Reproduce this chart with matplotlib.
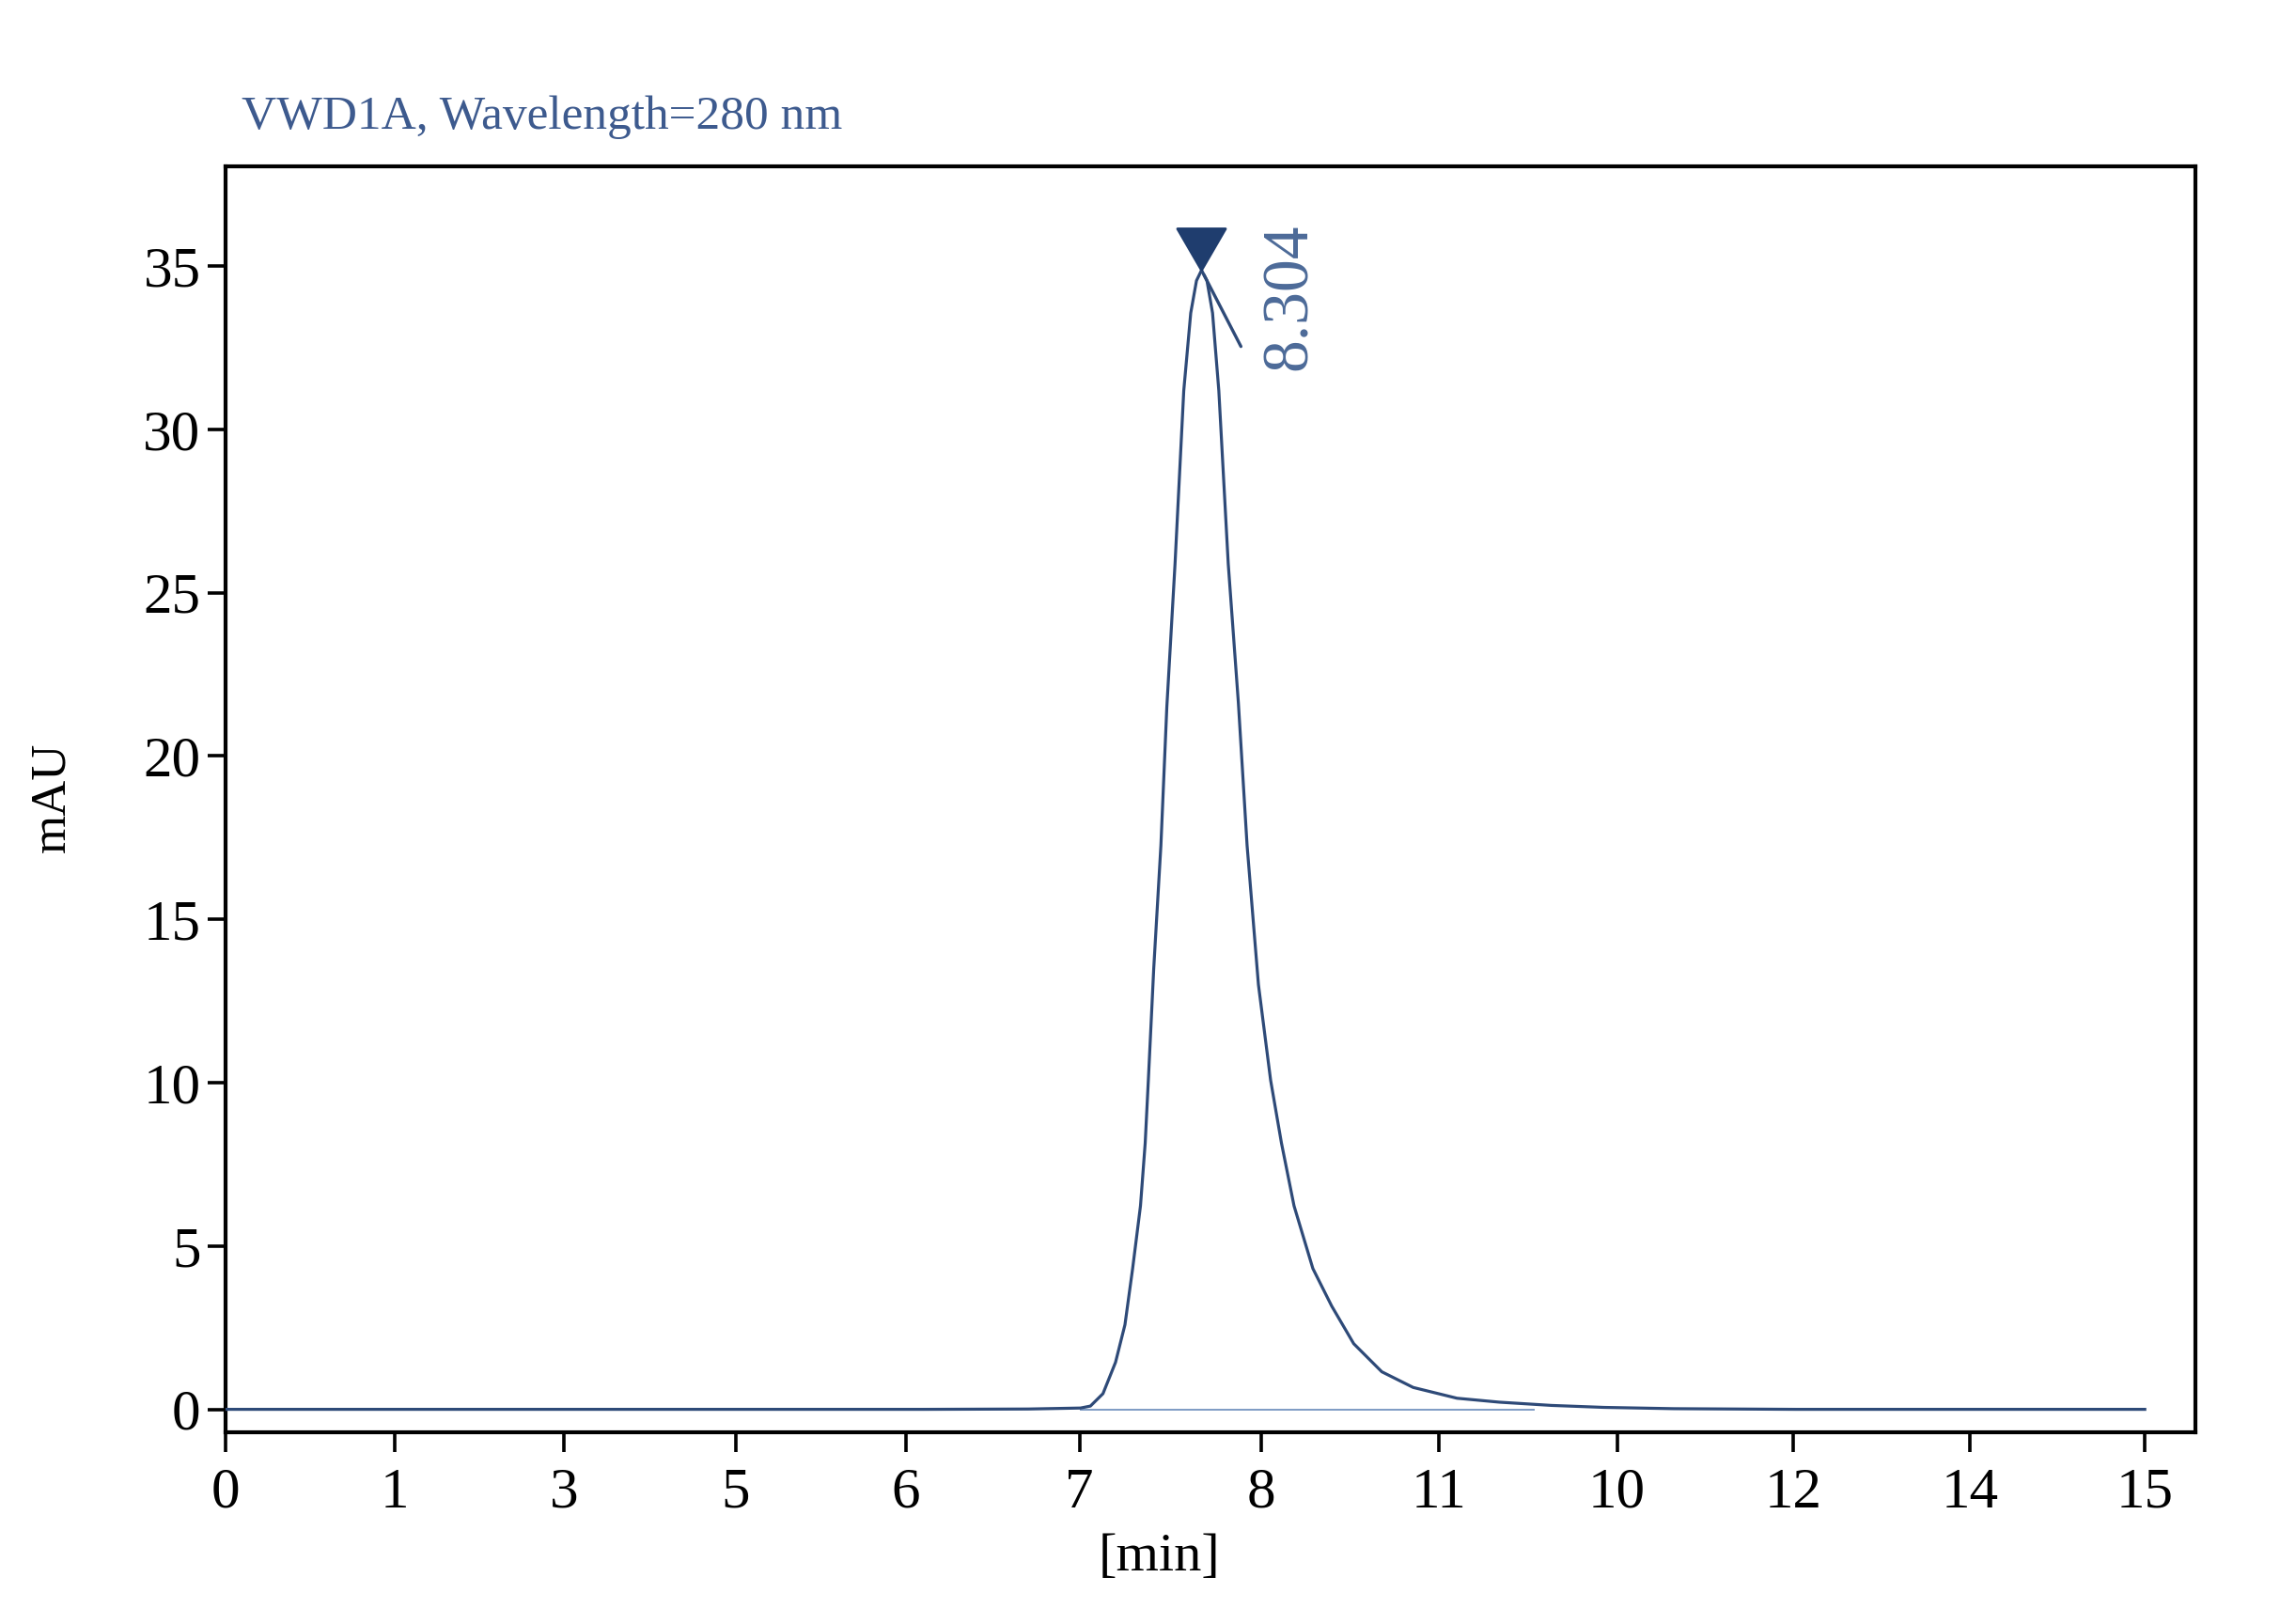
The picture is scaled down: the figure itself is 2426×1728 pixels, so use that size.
import matplotlib
matplotlib.use('Agg')
import matplotlib.pyplot as plt
import numpy as np

# chromatogram read off the picture; x is a linear axis measured in
# "slot" units (0 at the first tick, 11 at the last one)
tick_labels = ['0', '1', '3', '5', '6', '7', '8', '11', '10', '12', '14', '15']
tick_pos = [0, 0.97, 1.94, 2.925, 3.90, 4.895, 5.935, 6.955, 7.975, 8.985, 10.0, 11]
y_ticks = [0, 5, 10, 15, 20, 25, 30, 35]

time_pos = [0, 1, 2, 3, 4, 4.6, 4.90, 4.957, 5.029, 5.101, 5.155, 5.199,
            5.244, 5.271, 5.289, 5.320, 5.361, 5.395, 5.442, 5.492, 5.532,
            5.565, 5.594, 5.625, 5.657, 5.693, 5.747, 5.805, 5.855, 5.920,
            5.990, 6.052, 6.124, 6.232, 6.340, 6.466, 6.627, 6.807, 7.058,
            7.30, 7.60, 7.90, 8.3, 9, 10, 11]
absorbance = [0, 0, 0, 0, 0, 0.01, 0.04, 0.10, 0.48, 1.44, 2.59, 4.31,
              6.23, 8.15, 10.07, 13.5, 17.26, 21.5, 25.88, 31.18, 33.56,
              34.55, 34.87, 34.55, 33.56, 31.18, 25.88, 21.63, 17.26, 13.0,
              10.07, 8.15, 6.23, 4.31, 3.16, 2.01, 1.15, 0.67, 0.34,
              0.22, 0.12, 0.06, 0.02, 0, 0, 0]

peak_label = '8.304'
baseline_span = [4.9, 7.5]

line_col = '#2e4a78'
title_col = '#3d5a8e'
label_col = '#4c6a98'
serif = ['Liberation Serif', 'DejaVu Serif']

fig = plt.figure(figsize=(12.13, 8.64), dpi=200)
ax = fig.add_axes([0.0989, 0.1181, 0.864, 0.7795])

ax.plot(time_pos, absorbance, color=line_col, lw=1.15, zorder=3)
ax.plot(baseline_span, [0, 0], color='#7d9bc4', lw=0.7, zorder=2)

# peak marker: inverted triangle whose tip sits on the apex
i_pk = int(np.argmax(absorbance))
xp, yp = time_pos[i_pk], absorbance[i_pk]
tri = [(0, 0), (-0.58, 1), (0.58, 1), (0, 0)]
ax.plot([xp], [yp], marker=tri, markersize=31.7, color='#1f3d6e',
        markeredgecolor='#1f3d6e', zorder=4, clip_on=False)
ax.annotate('', xy=(xp, yp), xytext=(16, -31), textcoords='offset points',
            arrowprops=dict(arrowstyle='-', color=line_col, lw=1.2))
ax.annotate(peak_label, xy=(xp, yp), xytext=(34, -10), textcoords='offset points',
            rotation=90, ha='center', va='center', fontsize=25,
            family=serif, color=label_col)

ax.set_xlim(0, 11.29)
ax.set_ylim(-0.7, 38.05)
ax.set_xticks(tick_pos)
ax.set_xticklabels(tick_labels)
ax.set_yticks(y_ticks)

for lab in ax.get_xticklabels() + ax.get_yticklabels():
    lab.set_family(serif)
    lab.set_fontsize(22)
ax.tick_params(axis='x', direction='out', length=7.5, width=1.3, pad=6)
ax.tick_params(axis='y', direction='out', length=7, width=1.3, pad=2.5)
for s in ax.spines.values():
    s.set_linewidth(1.5)

ax.set_xlabel('[min]', family=serif, fontsize=21, va='center')
ax.xaxis.set_label_coords(0.474, -0.0987)
fig.text(0.023, 0.509, 'mAU', rotation=90, ha='center', va='center',
         family=serif, fontsize=19)
fig.text(0.106, 0.921, 'VWD1A, Wavelength=280 nm', ha='left', va='baseline',
         family=serif, fontsize=18.5, color=title_col)

fig.savefig('out.png', dpi=200, facecolor='white')
